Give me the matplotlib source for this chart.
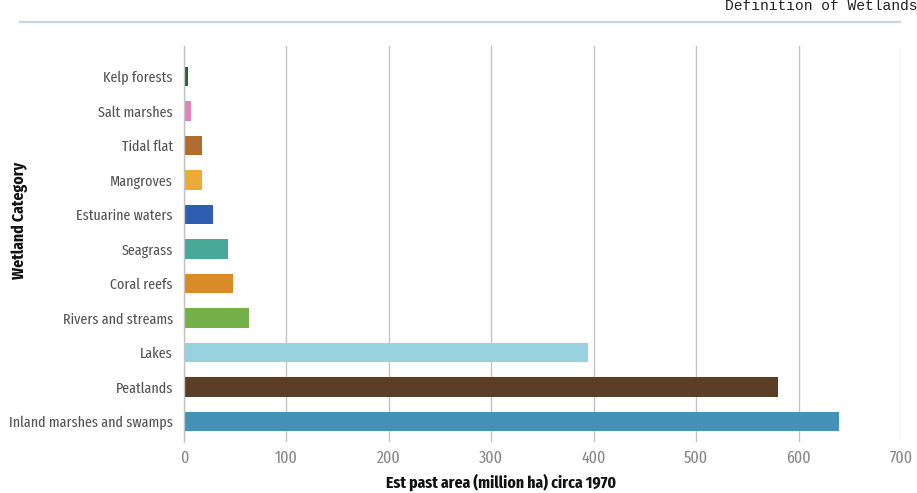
import matplotlib
matplotlib.use("Agg")
import matplotlib.pyplot as plt
from matplotlib import font_manager as fm

categories = ["Inland marshes and swamps", "Peatlands", "Lakes", "Rivers and streams",
              "Coral reefs", "Seagrass", "Estuarine waters", "Mangroves", "Tidal flat",
              "Salt marshes", "Kelp forests"]
values = [639, 580, 394, 63.5, 47.5, 43, 28.5, 17.5, 18, 7, 4]
colors = ["#4591b8", "#5c3e26", "#98d2df", "#74b04a", "#d88b26", "#48a999",
          "#2e5db3", "#eaac36", "#b06b2d", "#e283bc", "#2f5a3d"]
xticks = [0, 100, 200, 300, 400, 500, 600, 700]


def find_fonts(bold, extra):
    found = []
    for f in fm.fontManager.ttflist:
        fn = f.fname.lower().replace("-", "").replace("_", "")
        if "italic" in fn or "oblique" in fn:
            continue
        if extra:
            if "extracondensed" not in fn:
                continue
        else:
            if "condensed" not in fn or "extracondensed" in fn or "semicondensed" in fn \
                    or "ultracondensed" in fn:
                continue
        base = fn.split("condensed")[-1]
        isbold = "bold" in base and "semibold" not in base and "extrabold" not in base
        if bold != isbold:
            continue
        if any(k in base for k in ("light", "thin", "black", "medium", "semibold", "extrabold")):
            continue
        found.append(f.fname)
    found.sort()
    return found


reg_x = find_fonts(False, True)
bld_x = find_fonts(True, True)
if reg_x and bld_x:
    fp_reg = fm.FontProperties(fname=reg_x[0])
    fp_bold = fm.FontProperties(fname=bld_x[0])
    fs_y, fs_x, fs_lab = 11, 12.5, 12.3
else:
    reg = find_fonts(False, False)
    bld = find_fonts(True, False)
    fp_reg = fm.FontProperties(fname=reg[0]) if reg else fm.FontProperties(family="Roboto")
    fp_bold = fm.FontProperties(fname=bld[0]) if bld else fm.FontProperties(family="Roboto", weight="bold")
    fs_y, fs_x, fs_lab = 9.2, 10.2, 10

W, H = 917, 493
fig = plt.figure(figsize=(W / 100, H / 100), dpi=100)
ax = fig.add_axes([184 / W, 1 - 442 / H, (901 - 184) / W, (442 - 46) / H])

ypos = list(range(len(categories)))
ax.barh(ypos, values, height=0.56, color=colors, zorder=3)
ax.set_xlim(0, 700)
ax.set_ylim(-0.59, 10.88)
ax.set_xticks(xticks)
ax.set_xticklabels([str(t) for t in xticks])
ax.set_yticks(ypos)
ax.set_yticklabels(categories)
for lab in ax.get_xticklabels():
    lab.set_fontproperties(fp_reg)
    lab.set_fontsize(fs_x)
    lab.set_color("#888888")
for lab in ax.get_yticklabels():
    lab.set_fontproperties(fp_reg)
    lab.set_fontsize(fs_y)
    lab.set_color("#555555")
ax.tick_params(axis="y", length=0, pad=8)
ax.tick_params(axis="x", length=0, pad=6)
ax.grid(axis="x", color="#c4c4c4", linewidth=1, zorder=0)
for s in ["top", "right", "bottom"]:
    ax.spines[s].set_visible(False)
ax.spines["left"].set_color("#c4c4c4")
ax.spines["left"].set_linewidth(1)
ax.spines["left"].set_zorder(4)

ax.set_xlabel("Est past area (million ha) circa 1970", fontproperties=fp_bold,
              fontsize=fs_lab, color="#111111")
ax.xaxis.set_label_coords((501 - 184) / 717, -(482 - 442) / 396)
ax.xaxis.label.set_va("center")
fig.text(20 / W, 1 - 220 / H, "Wetland Category", rotation=90, ha="center", va="center",
         fontproperties=fp_bold, fontsize=fs_lab, color="#111111")

fig.add_artist(plt.Line2D([20 / W, 900 / W], [1 - 22 / H, 1 - 22 / H], color="#c8d7e7",
                          linewidth=1.6, transform=fig.transFigure))
fig.text(725 / W, 1 - 6 / H, "Definition of Wetlands", ha="left", va="center",
         fontfamily="Liberation Mono", fontsize=10.5, color="#222222")

fig.savefig("out.png", dpi=100, facecolor="white")
